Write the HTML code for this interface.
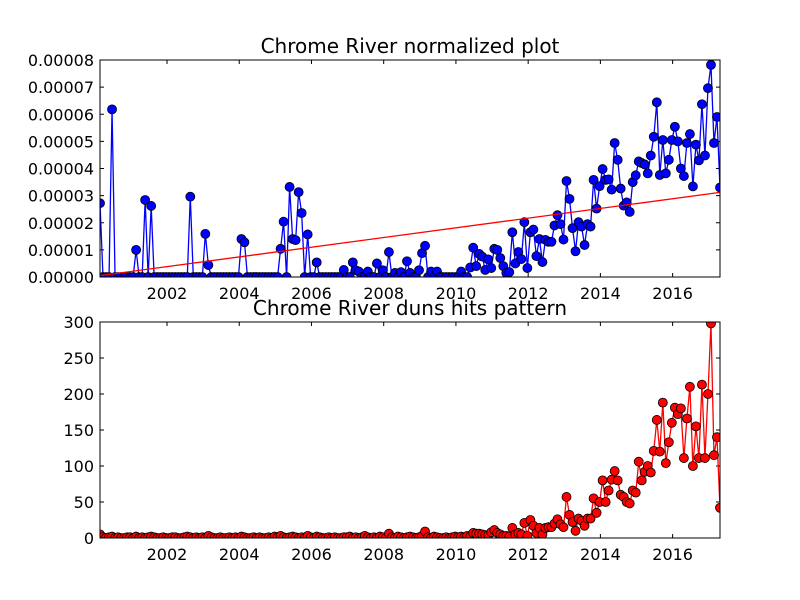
<!DOCTYPE html>
<html><head><meta charset="utf-8"><style>
html,body{margin:0;padding:0;background:#fff;}
svg{display:block;font-family:"DejaVu Sans","Liberation Sans",sans-serif;}
</style></head><body>
<svg id="chart" width="800" height="600" viewBox="0 0 800 600" xmlns="http://www.w3.org/2000/svg">
<rect width="800" height="600" fill="#fff"/>
</svg>
<script>
// ---- data ----
const yearTicks = [2002, 2004, 2006, 2008, 2010, 2012, 2014, 2016];
const topTicks = [0, 10, 20, 30, 40, 50, 60, 70, 80]; // x1e-6
const topTickLabels = ["0.00000","0.00001","0.00002","0.00003","0.00004","0.00005","0.00006","0.00007","0.00008"];
const bottomTicks = [0, 50, 100, 150, 200, 250, 300];
const topSpikes = [[0,27.2],[4,61.8],[12,10],[15,28.4],[17,26.2],[30,29.6],[35,15.9],[36,4.4],[47,14],[48,12.8],[60,10.4],[61,20.4],[63,33.2],[64,14],[65,13.6],[66,31.3],[67,23.6],[69,15.7],[72,5.4],[81,2.6],[84,5.4],[85,2.5],[86,2],[89,2],[92,5],[94,2.5],[96,9.2],[98,1.5],[100,1.8],[102,5.8],[103,1.5],[106,2.5],[107,8.8],[108,11.5],[110,2],[112,2],[120,2],[123,3.5],[124,10.8],[125,4],[126,8.5],[127,7.5],[128,2.6],[129,6.5],[130,3.3],[131,10.4],[132,10],[133,7],[134,4],[135,1.5],[136,1.8],[137,16.5],[138,5],[139,9.2]];
const topTail = [6.6,20.2,3.3,16.5,17.5,7.7,14,5.5,13.7,13,13,19,22.8,19.5,13.8,35.4,28.8,18,9.5,20.2,18.6,11.8,19.5,18.6,35.8,25.2,33.5,39.8,35.8,36,32.2,49.4,43.2,32.6,26.3,27.5,24,35,37.5,42.6,42,41.5,38.2,44.8,51.7,64.4,37.6,50.5,38.2,43.2,50.5,55.4,50,40,37.2,49.4,52.7,33.4,48.8,43,63.7,44.8,69.6,78.2,49.4,59,33];
const trendValues = [0.5, 31.2];
const bottomHead = [5,1,0,1,2,0,1,0,0,1,1,0,2,0,1,0,1,2,1,0,0,1,0,0,1,1,0,0,1,2,1,0,1,0,1,0,3,1,0,0,1,0,0,1,0,1,0,2,1,0,0,1,0,1,0,0,1,0,2,1,3,1,0,1,2,1,0,1,0,3,1,0,2,1,0,0,1,0,1,0,0,1,1,2,0,1,0,1,3,1,0,1,0,2,1,0,6,1,0,2,1,0,1,2,1,0,1,3,9,1,0,2,1,0,0,1,0,1,2,1,2,1,3,2];
const bottomTail = [7,6,6,5,4,4,8,11,7,5,3,3,2,14,5,7,5,21,3,25,17,7,14,5,14,15,15,20,26,19,15,57,32,22,10,27,24,17,27,27,55,35,50,80,50,66,81,93,80,60,57,50,48,66,63,106,80,92,100,91,121,164,120,188,104,133,160,181,172,180,111,166,210,100,155,111,213,111,200,298,115,140,42];
const N = 207;
const topValues = new Array(140).fill(0);
topSpikes.forEach(s => { topValues[s[0]] = s[1]; });
const topSeries = topValues.concat(topTail);
const bottomSeries = bottomHead.concat(bottomTail);

// ---- geometry ----
const X0 = 100, X1 = 720;
const TOP = {y0: 60, y1: 277, min: 0, max: 80};
const BOT = {y0: 322, y1: 538, min: 0, max: 300};
const ns = "http://www.w3.org/2000/svg";
const svg = document.getElementById('chart');
function xIdx(i){ return X0 + i * (X1 - X0) / (N - 1); }
function xYear(y){ return xIdx(22.26 + (y - 2002) * 12.0); }
function yAx(ax, v){ return ax.y1 - (v - ax.min) / (ax.max - ax.min) * (ax.y1 - ax.y0); }
function mk(tag, attrs, parent){
  const e = document.createElementNS(ns, tag);
  for (const k in attrs) e.setAttribute(k, attrs[k]);
  (parent || svg).appendChild(e); return e;
}

function drawAxes(ax, ticks, labels, title, name){
  const g = mk('g', {});
  
  
  const clipId = name + '-clip';
  const cp = mk('clipPath', {id: clipId}, g);
  mk('rect', {x: X0, y: ax.y0, width: X1 - X0, height: ax.y1 - ax.y0}, cp);
  ticks.forEach((t, k) => {
    const y = yAx(ax, t);
    mk('line', {x1: X0, x2: X0 + 4, y1: y, y2: y, stroke: '#000', 'stroke-width': 1}, g);
    mk('line', {x1: X1, x2: X1 - 4, y1: y, y2: y, stroke: '#000', 'stroke-width': 1}, g);
    const tx = mk('text', {x: X0 - 6, y: y + 6, 'text-anchor': 'end', 'font-size': 16, fill: '#000'}, g);
    tx.textContent = labels[k];
    
    
  });
  yearTicks.forEach(yr => {
    const x = xYear(yr);
    mk('line', {x1: x, x2: x, y1: ax.y1, y2: ax.y1 - 4, stroke: '#000', 'stroke-width': 1}, g);
    mk('line', {x1: x, x2: x, y1: ax.y0, y2: ax.y0 + 4, stroke: '#000', 'stroke-width': 1}, g);
    const tx = mk('text', {x: x, y: ax.y1 + 22, 'text-anchor': 'middle', 'font-size': 16, fill: '#000'}, g);
    tx.textContent = String(yr);
    
    
  });
  const tt = mk('text', {x: (X0 + X1) / 2, y: ax.y0 - 7, 'text-anchor': 'middle', 'font-size': 20, fill: '#000'}, g);
  tt.textContent = title;
  
  
  return {g, clipId};
}

function drawSeries(ax, vals, color, name, info){
  const g = mk('g', {'clip-path': 'url(#' + info.clipId + ')'});
  
  
  const pts = vals.map((v, i) => xIdx(i).toFixed(2) + ',' + yAx(ax, v).toFixed(2)).join(' ');
  const pl = mk('polyline', {points: pts, fill: 'none', stroke: color, 'stroke-width': 1.3}, g);
  
  
  vals.forEach((v, i) => {
    const c = mk('circle', {cx: xIdx(i), cy: yAx(ax, v), r: 4.5, fill: color, stroke: '#000', 'stroke-width': 0.8}, g);
    
    
  });
  return g;
}

const topInfo = drawAxes(TOP, topTicks, topTickLabels, 'Chrome River normalized plot', 'top');
drawSeries(TOP, topSeries, '#0000ff', 'normalized-series', topInfo);
const trend = mk('line', {x1: xIdx(0), y1: yAx(TOP, trendValues[0]), x2: xIdx(N - 1), y2: yAx(TOP, trendValues[1]), stroke: '#ff0000', 'stroke-width': 1.3, 'clip-path': 'url(#top-clip)'});


const topFrame = mk('rect', {x: X0, y: TOP.y0, width: X1 - X0, height: TOP.y1 - TOP.y0, fill: 'none', stroke: '#000', 'stroke-width': 1});



const botInfo = drawAxes(BOT, bottomTicks, bottomTicks.map(String), 'Chrome River duns hits pattern', 'bottom');
drawSeries(BOT, bottomSeries, '#ff0000', 'hits-series', botInfo);
const botFrame = mk('rect', {x: X0, y: BOT.y0, width: X1 - X0, height: BOT.y1 - BOT.y0, fill: 'none', stroke: '#000', 'stroke-width': 1});


</script>
</body></html>
